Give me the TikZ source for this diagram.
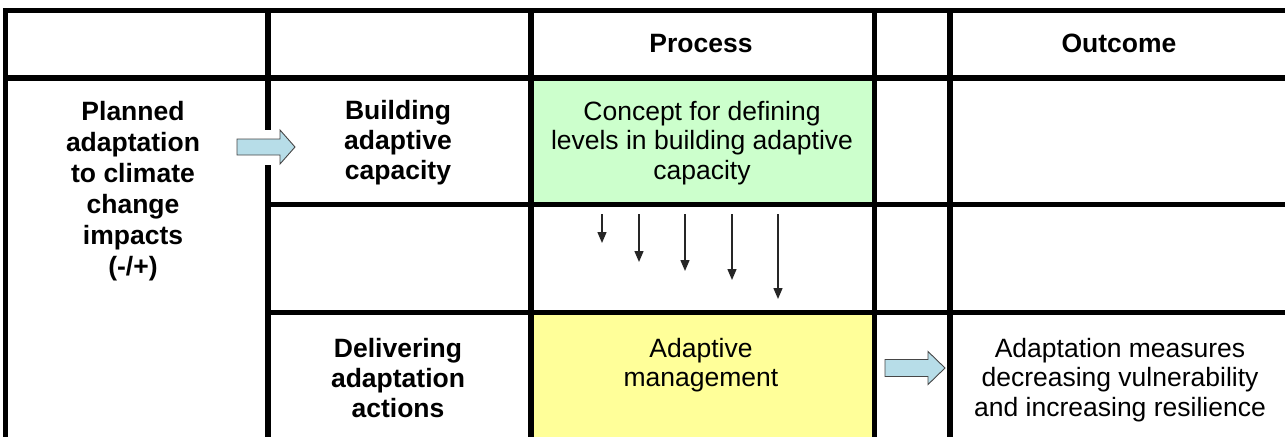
\documentclass[tikz,border=0pt]{standalone}
\usepackage{fontspec}
\setmainfont{Liberation Sans}
\usetikzlibrary{arrows.meta}

\definecolor{conceptgreen}{RGB}{204,255,204}
\definecolor{managementyellow}{RGB}{255,255,153}
\definecolor{arrowblue}{RGB}{183,221,232}
\definecolor{arrowgray}{RGB}{70,70,70}

\newcommand{\colA}{5.5}
\newcommand{\colB}{268}
\newcommand{\colC}{531}
\newcommand{\colD}{874.5}
\newcommand{\colE}{950}
\newcommand{\rowA}{10.5}
\newcommand{\rowB}{78}
\newcommand{\rowC}{204.5}
\newcommand{\rowD}{312.5}
\newcommand{\picW}{1285}
\newcommand{\picH}{437}

\tikzset{
  gridline/.style={line width=5.5pt, black},
  fatarrow/.style={fill=arrowblue, draw=arrowgray, line width=0.9pt, line join=miter},
  levelarrow/.style={-{Triangle[width=9pt,length=11pt]}, line width=1.4pt, black!85},
  headtext/.style={font=\bfseries\fontsize{26.5}{30}\selectfont, align=center, inner sep=0pt, anchor=north},
  celltext/.style={font=\fontsize{26.5}{29.5}\selectfont, align=center, inner sep=0pt, anchor=north}
}

\begin{document}
\begin{tikzpicture}[x=1pt, y=-1pt]

  \useasboundingbox (0,0) rectangle (\picW,\picH);

  % Coloured cells:
  \fill[conceptgreen]     (\colC,\rowB) rectangle (\colD,\rowC);
  \fill[managementyellow] (\colC,\rowD) rectangle (\colD,\picH);

  % Horizontal lines:
  \draw[gridline] (\colA-2.75, \rowA) -- (\picW, \rowA);
  \draw[gridline] (\colA,      \rowB) -- (\picW, \rowB);
  \draw[gridline] (\colB,      \rowC) -- (\picW, \rowC);
  \draw[gridline] (\colB,      \rowD) -- (\picW, \rowD);

  % Vertical lines:
  \draw[gridline] (\colA, \rowA) -- (\colA, \picH);
  \draw[gridline] (\colB, \rowA) -- (\colB, \picH);
  \draw[gridline] (\colC, \rowA) -- (\colC, \picH);
  \draw[gridline] (\colD, \rowA) -- (\colD, \picH);
  \draw[gridline] (\colE, \rowA) -- (\colE, \picH);

  % Texts:
  \node[headtext] (process) at (701, 34) {Process};
  \node[headtext] (outcome) at (1119, 34) {Outcome};
  \node[headtext, font=\bfseries\fontsize{26.5}{31}\selectfont] (planned) at (133, 101)
    {Planned\\adaptation\\to climate\\change\\impacts\\(-/+)};
  \node[headtext] (building) at (398, 100) {Building\\adaptive\\capacity};
  \node[celltext] (concept) at (702, 101) {Concept for defining\\levels in building adaptive\\capacity};
  \node[headtext] (delivering) at (398, 338) {Delivering\\adaptation\\actions};
  \node[celltext] (adaptive) at (701, 338) {Adaptive\\management};
  \node[celltext] (measures) at (1120, 338) {Adaptation measures\\decreasing vulnerability\\and increasing resilience};

  % Fat arrows:
  \fill[white] (\colB-4, 130) rectangle (\colB+4, 165);
  \coordinate (inTail) at (237, 139);
  \draw[fatarrow] (inTail) -- ++(43,0) -- ++(0,-9) -- ++(15,17) -- ++(-15,17) -- ++(0,-9) -- ++(-43,0) -- cycle;
  \coordinate (outTail) at (885, 359.5);
  \draw[fatarrow] (outTail) -- ++(43,0) -- ++(0,-8) -- ++(17,16.5) -- ++(-17,16.5) -- ++(0,-8) -- ++(-43,0) -- cycle;

  % Level arrows:
  \foreach \x/\y [count=\i] in {602/243, 639/262, 685/271, 732/280, 778/299}{
    \coordinate (lvlTop\i) at (\x, 214);
    \coordinate (lvlTip\i) at (\x, \y);
    \draw[levelarrow] (lvlTop\i) -- (lvlTip\i);
  }

\end{tikzpicture}
\end{document}
